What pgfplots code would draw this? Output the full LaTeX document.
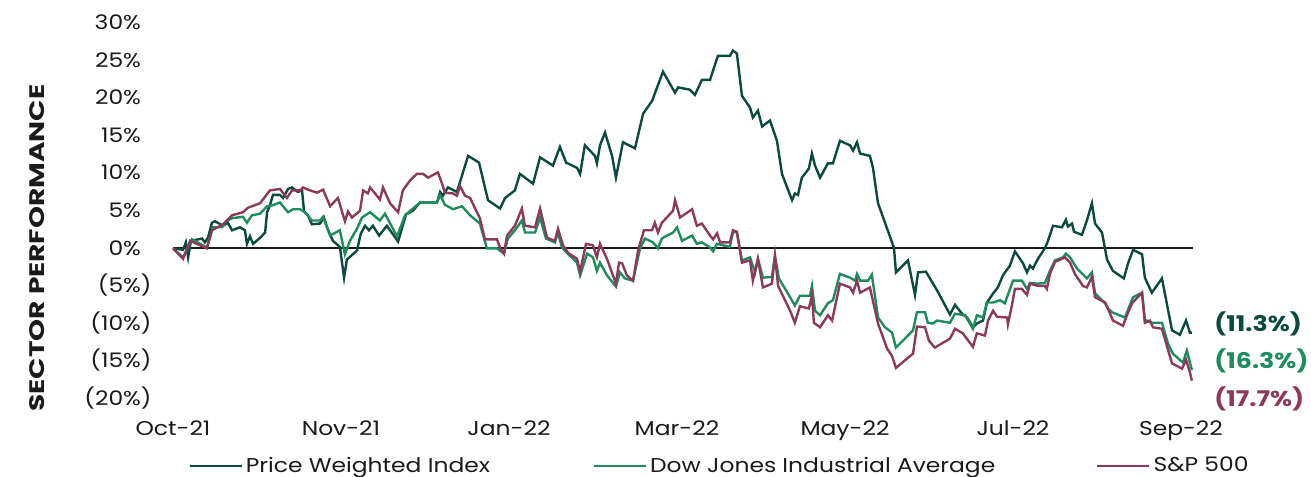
\documentclass[border=0pt]{standalone}
\usepackage{pgfplots}
\pgfplotsset{compat=1.18}
\usepackage{graphicx}
\usepackage{fontspec}
\setmainfont{Poppins}[FakeStretch=1.17]
\definecolor{pwc}{HTML}{0B4A3E}
\definecolor{djc}{HTML}{1F8C5B}
\definecolor{spc}{HTML}{8B3A5C}
\definecolor{txt}{HTML}{1A1A1A}
\begin{document}
\begin{tikzpicture}
\begin{axis}[
  scale only axis, width=510pt, height=188pt,
  xmin=0, xmax=364.3, ymin=-20, ymax=30,
  axis line style={draw=none}, major tick length=0pt,
  xtick={0,60,120,180,240,300,360},
  xticklabels={Oct-21,Nov-21,Jan-22,Mar-22,May-22,Jul-22,Sep-22},
  ytick={-20,-15,-10,-5,0,5,10,15,20,25,30},
  yticklabels={(20\%),(15\%),(10\%),(5\%),0\%\phantom{)},5\%\phantom{)},10\%\phantom{)},15\%\phantom{)},20\%\phantom{)},25\%\phantom{)},30\%\phantom{)}},
  ticklabel style={font=\fontsize{10}{12}\selectfont, text=txt},
  xticklabel style={anchor=base, yshift=-19pt},
  yticklabel style={anchor=east, inner xsep=0pt, xshift=-10.5pt},
  clip=false,
  ylabel={\scalebox{1.14}[1]{SECTOR PERFORMANCE}},
  ylabel style={at={(axis description cs:-0.1333,0.399)}, anchor=center, font=\bfseries\fontsize{10.5}{12}\selectfont, text=txt},
  legend columns=3,
  legend image code/.code={\draw[#1] (0pt,0pt) -- (26pt,0pt);},
  legend style={draw=none, fill=none, at={(0,0)}, anchor=west, xshift=7.5pt, yshift=-34pt, inner sep=0pt,
    nodes={inner xsep=0pt, inner ysep=1pt, anchor=west, font=\fontsize{10}{12}\selectfont, text=txt},
    /tikz/every even column/.append style={column sep=0pt}},
]
\addplot[txt, line width=1pt, forget plot] coordinates {(0,0) (364.3,0)};
\addplot[pwc, line width=1.2pt] table {
0 -0.1
3.6 -0.3
4.6 0.7
5.4 -1.3
6.4 0.9
10.4 1.2
11.4 0.7
12.5 1.3
13.9 3.3
15.0 3.5
17.9 2.9
19.6 3.3
21.1 2.3
23.9 2.7
25.7 2.3
26.4 0.5
27.5 1.5
28.6 0.5
31.1 1.3
32.9 2.0
33.6 4.7
34.6 5.6
35.7 7.0
38.2 7.0
39.3 6.6
41.1 7.8
42.5 8.0
44.6 7.4
46.1 7.6
46.8 4.8
48.2 4.3
49.6 3.1
52.5 3.2
53.9 4.0
55.0 2.7
57.1 0.9
59.6 0.1
61.1 -4.0
62.1 -1.6
65.7 -0.4
67.1 1.9
68.6 2.9
70.0 2.3
71.4 2.9
73.6 1.6
76.4 2.9
80.4 0.8
83.2 4.4
85.7 4.9
88.2 6.0
91.8 6.0
94.3 6.0
95.4 7.4
96.4 6.9
98.2 8.0
101.4 7.4
105.4 12.2
109.3 11.3
112.5 6.3
116.8 5.2
118.6 6.6
122.1 7.6
123.9 9.8
128.6 8.5
131.1 12.0
135.7 10.9
138.2 13.4
140.4 11.3
144.3 10.6
145.4 9.8
147.1 13.6
150.7 12.2
151.4 11.2
152.5 13.6
154.3 15.3
156.8 12.2
158.2 9.3
160.7 14.0
165.0 13.2
167.9 17.8
171.1 19.5
175.0 23.4
179.3 20.6
180.4 21.3
184.6 21.0
186.4 20.3
188.9 22.3
191.8 22.3
194.6 25.5
198.9 25.5
200.0 26.2
201.4 25.8
203.2 20.2
206.1 18.6
207.1 17.3
208.9 18.2
210.4 16.1
213.2 16.9
215.7 14.2
217.5 9.8
221.1 6.3
222.1 7.2
223.2 7.0
224.6 9.3
227.1 10.5
228.2 12.5
229.3 10.9
231.1 9.3
233.9 11.2
235.7 11.2
238.2 14.2
241.8 13.6
242.9 12.9
244.3 14.0
245.4 12.5
248.9 12.2
250.0 10.6
251.8 5.9
256.8 0.7
257.5 0.0
258.2 -3.3
262.5 -1.7
265.0 -6.3
266.1 -3.3
268.9 -3.2
272.9 -5.7
277.5 -8.9
279.3 -7.6
281.8 -8.8
283.6 -9.3
285.7 -10.6
287.1 -10.1
289.3 -9.7
290.7 -7.3
292.9 -6.1
294.6 -5.3
296.4 -3.7
298.9 -2.4
300.7 -0.5
303.6 -2.1
305.0 -3.3
306.1 -2.4
307.1 -2.8
308.9 -1.5
311.4 -0.1
312.5 0.9
314.3 2.9
317.5 2.7
318.9 3.7
319.6 2.8
321.1 3.2
321.8 2.1
324.6 1.7
326.4 3.6
328.2 5.9
329.3 3.2
331.8 2.0
333.6 -1.6
335.7 -3.1
339.6 -4.1
341.1 -2.1
342.9 -0.3
346.1 -0.9
347.1 -4.0
349.6 -6.0
353.2 -4.1
356.8 -11.0
359.6 -11.6
361.8 -9.7
363.2 -11.3
363.9 -11.3
};
\addlegendentry{\makebox[175pt][l]{\hspace*{1.5pt}Price Weighted Index}}
\addplot[djc, line width=1.2pt] table {
0 -0.1
3.6 -1.3
6.8 1.1
12.1 0.0
14.3 2.7
17.5 2.7
19.3 3.6
21.1 3.9
25.0 4.1
26.4 3.3
28.2 4.3
31.1 4.5
33.6 5.5
35.4 5.6
38.2 6.0
41.1 4.7
42.9 5.1
45.4 5.1
47.1 4.7
49.6 3.6
52.5 3.6
53.6 4.1
56.1 1.6
59.6 2.3
61.4 -0.9
63.2 0.9
65.7 2.5
67.5 4.0
70.4 4.7
73.9 3.6
75.7 4.5
80.0 1.5
82.9 4.3
88.2 6.0
94.3 6.0
95.4 7.0
97.1 5.7
100.0 5.1
103.2 5.5
106.1 4.3
109.6 3.2
112.1 -0.1
115.7 -0.1
118.2 -0.8
119.6 1.2
122.1 2.3
124.6 3.6
125.7 2.0
129.3 2.0
131.1 4.0
133.2 1.2
136.4 0.7
137.5 2.0
138.9 0.0
140.7 -0.7
144.3 -2.0
145.4 -3.7
147.9 -0.8
150.0 -1.3
151.4 -3.1
152.5 -2.0
155.0 -3.7
158.2 -5.2
159.6 -3.3
161.4 -4.1
164.3 -4.4
166.8 -0.1
168.6 1.2
171.4 0.7
173.2 -0.1
174.6 1.2
176.4 1.6
178.6 2.0
180.0 2.7
181.8 0.9
185.4 1.6
187.1 0.5
188.9 0.7
191.8 0.0
192.9 -0.5
194.3 0.5
198.9 0.1
200.0 2.1
201.4 2.0
203.2 -1.7
206.1 -1.3
207.9 -3.3
208.9 -1.5
210.7 -4.0
213.9 -3.9
215.0 -1.1
216.4 -4.1
219.6 -6.1
222.1 -7.7
223.9 -6.4
227.5 -6.4
228.2 -5.1
229.3 -8.4
231.1 -9.0
233.9 -7.4
235.7 -7.0
238.2 -3.5
241.8 -4.0
243.6 -4.4
244.3 -3.5
245.4 -4.4
248.2 -4.4
249.6 -3.6
251.8 -9.3
254.3 -10.6
256.8 -11.3
258.2 -13.3
261.4 -12.1
264.3 -11.0
265.7 -8.6
268.6 -8.6
269.6 -10.0
271.4 -10.1
272.9 -9.7
277.5 -10.0
279.3 -8.8
282.9 -9.0
285.7 -10.8
287.1 -9.0
289.3 -9.3
290.7 -7.3
292.9 -7.3
295.4 -7.0
297.1 -7.4
300.0 -4.4
303.2 -4.4
305.0 -5.5
306.1 -4.7
308.6 -4.8
311.4 -4.7
313.2 -3.1
315.0 -1.7
317.9 -1.3
318.9 -0.8
320.4 -1.3
322.9 -2.8
326.4 -4.1
328.2 -3.3
329.3 -6.1
332.9 -7.4
333.9 -8.1
335.4 -8.6
340.0 -9.3
342.9 -6.6
346.1 -6.0
347.1 -9.6
349.6 -10.0
353.2 -10.0
355.4 -12.8
357.1 -14.1
360.7 -15.3
362.1 -13.7
363.9 -16.3
};
\addlegendentry{\makebox[224.5pt][l]{\hspace*{1.5pt}Dow Jones Industrial Average}}
\addplot[spc, line width=1.2pt] table {
0 -0.1
3.6 -1.5
6.1 0.9
12.1 -0.1
13.9 2.3
17.9 3.1
21.1 4.3
25.0 4.7
26.8 5.3
31.1 5.9
34.6 7.6
38.2 7.8
40.7 6.6
42.5 7.6
45.4 7.6
46.4 8.0
48.2 7.7
51.4 7.3
53.6 7.7
56.1 5.5
58.9 6.6
61.4 3.5
62.5 4.8
63.9 4.0
66.8 4.9
67.9 7.6
69.6 7.2
70.4 8.0
73.9 6.4
75.0 8.0
77.5 5.9
80.4 4.7
82.1 7.6
84.6 8.9
87.1 9.8
89.3 9.8
91.1 9.3
94.6 10.0
96.1 8.5
97.1 7.3
100.0 7.2
101.4 6.9
102.5 8.2
104.3 6.9
106.1 6.6
109.6 3.9
111.4 1.1
115.7 1.1
116.8 0.0
118.2 -0.8
119.3 1.6
122.1 2.9
124.6 5.2
125.7 2.9
129.3 2.7
131.1 5.2
133.6 1.3
136.4 0.9
137.5 2.5
139.3 0.3
141.1 -0.7
144.3 -1.5
145.4 -3.2
147.5 0.5
150.0 0.3
151.4 -1.3
152.5 0.5
155.0 -1.5
158.2 -4.8
159.3 -2.0
160.4 -2.1
162.1 -3.7
164.3 -4.4
166.1 -0.4
168.2 2.3
171.1 2.3
172.1 3.3
173.2 2.0
174.6 3.3
178.6 4.9
179.3 6.3
181.1 4.0
185.4 5.1
187.1 2.9
188.9 3.2
191.8 1.6
192.9 1.1
194.3 1.9
195.4 0.7
198.9 0.7
200.0 2.3
201.4 2.1
203.2 -2.0
206.1 -1.7
207.1 -4.4
208.9 -1.5
210.7 -5.3
213.9 -4.8
215.0 -1.1
216.1 -5.1
218.6 -7.0
220.4 -8.4
222.1 -10.0
223.9 -7.8
227.1 -8.1
228.2 -6.4
228.9 -10.0
231.1 -10.6
233.9 -9.0
235.4 -9.7
238.2 -4.8
241.8 -5.3
242.9 -6.0
244.3 -4.4
245.4 -6.0
248.9 -5.3
251.8 -10.1
255.0 -13.4
256.8 -14.4
258.2 -16.0
261.4 -15.0
264.3 -14.1
265.7 -10.5
268.6 -10.6
270.0 -12.4
272.1 -13.3
277.5 -12.1
279.3 -10.8
282.1 -11.4
285.7 -13.2
287.1 -11.4
290.0 -11.7
291.1 -9.7
292.9 -8.4
294.3 -9.2
297.9 -9.3
298.2 -10.2
299.6 -7.7
300.7 -5.5
303.2 -5.5
305.0 -6.3
306.1 -4.8
308.9 -5.1
311.4 -5.1
312.1 -5.5
313.2 -3.5
315.0 -1.9
318.6 -1.3
320.4 -2.0
322.1 -3.5
325.0 -5.1
326.4 -5.3
328.2 -3.9
329.3 -6.6
332.9 -7.3
333.9 -8.1
335.7 -9.7
339.3 -10.4
340.7 -9.0
342.5 -7.4
346.1 -6.0
347.1 -10.0
348.9 -9.7
350.0 -10.6
353.2 -10.8
356.8 -15.4
360.4 -16.1
361.8 -14.9
363.2 -16.6
363.9 -17.7
};
\addlegendentry{\hspace*{1.5pt}S\&P 500}
\node[anchor=west, text=pwc, font=\bfseries\fontsize{10.8}{13}\selectfont, inner xsep=0pt, xshift=10.5pt] at (axis cs:364.3,-10.1) {(11.3\%)};
\node[anchor=west, text=djc, font=\bfseries\fontsize{10.8}{13}\selectfont, inner xsep=0pt, xshift=10.5pt] at (axis cs:364.3,-15.1) {(16.3\%)};
\node[anchor=west, text=spc, font=\bfseries\fontsize{10.8}{13}\selectfont, inner xsep=0pt, xshift=10.5pt] at (axis cs:364.3,-20.1) {(17.7\%)};
\end{axis}
\pgfresetboundingbox
\path[use as bounding box] ([xshift=-86.5pt, yshift=-39.5pt]current axis.south west) rectangle ([xshift=59pt, yshift=11pt]current axis.north east);
\end{tikzpicture}
\end{document}
